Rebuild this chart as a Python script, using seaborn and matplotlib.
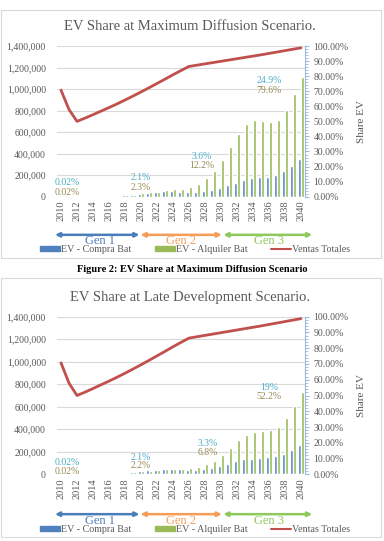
import numpy as np
import pandas as pd
import matplotlib
matplotlib.use("Agg")
import matplotlib.pyplot as plt
from matplotlib.patches import Rectangle, Patch
from matplotlib.lines import Line2D
from matplotlib.ticker import MultipleLocator, FuncFormatter
import seaborn as sns

sns.set_style("white")
plt.rcParams['font.family'] = ['Liberation Serif', 'DejaVu Serif']

# data
years = list(range(2010, 2041))
ventas = [990000, 810000, 700000, 730000, 762000, 795000, 828000, 862000, 898000,
          935000, 973000, 1012000, 1052000, 1092000, 1133000, 1172000, 1210000,
          1222000, 1234000, 1246000, 1258000, 1270000, 1282000, 1294000, 1306000,
          1318000, 1331000, 1344000, 1357000, 1370000, 1383000]

compra_max = [0.0002, 0.0002, 0.0002, 0.0005, 0.001, 0.002, 0.004, 0.006, 0.009, 0.013,
              0.021, 0.026, 0.030, 0.035, 0.036, 0.033, 0.030, 0.030, 0.036, 0.042,
              0.058, 0.079, 0.094, 0.114, 0.124, 0.131, 0.134, 0.145, 0.170, 0.207, 0.249]
alquiler_max = [0.0002, 0.0002, 0.0002, 0.0005, 0.001, 0.002, 0.003, 0.005, 0.008, 0.012,
                0.023, 0.029, 0.034, 0.042, 0.049, 0.054, 0.064, 0.087, 0.122, 0.170,
                0.244, 0.330, 0.418, 0.482, 0.510, 0.504, 0.495, 0.510, 0.573, 0.680, 0.796]

compra_late = [0.0002, 0.0002, 0.0002, 0.0005, 0.001, 0.002, 0.004, 0.006, 0.009, 0.013,
               0.021, 0.026, 0.030, 0.035, 0.036, 0.032, 0.028, 0.028, 0.033, 0.037,
               0.050, 0.065, 0.083, 0.097, 0.100, 0.103, 0.107, 0.113, 0.128, 0.156, 0.188]
alquiler_late = [0.0002, 0.0002, 0.0002, 0.0005, 0.001, 0.002, 0.003, 0.005, 0.008, 0.012,
                 0.022, 0.024, 0.026, 0.033, 0.035, 0.035, 0.039, 0.046, 0.068, 0.087,
                 0.124, 0.170, 0.217, 0.250, 0.270, 0.275, 0.280, 0.302, 0.355, 0.435, 0.522]

# data labels: (compra text, alquiler text, x index, y compra, y alquiler)
labels_max = [("0.02%", "0.02%", 0.75, 0.097, 0.031),
              ("2.1%", "2.3%", 10.0, 0.126, 0.062),
              ("3.6%", "12.2%", 17.6, 0.27, 0.206),
              ("24.9%", "79.6%", 26.0, 0.774, 0.708)]
labels_late = [("0.02%", "0.02%", 0.75, 0.076, 0.017),
               ("2.1%", "2.2%", 10.0, 0.108, 0.053),
               ("3.3%", "6.8%", 18.3, 0.197, 0.137),
               ("19%", "52.2%", 26.0, 0.552, 0.492)]

series = ["EV - Compra Bat", "EV - Alquiler Bat", "Ventas Totales"]
blue, green, red = "#4F81BD", "#9BBB59", "#C0504D"
grey = "#595959"

W, H = 384, 541
fig = plt.figure(figsize=(W / 100, H / 100), dpi=100)


def fy(py):
    return 1 - py / H


def panel(top_px, bottom_px, title, title_px, box, compra, alquiler, lbls, legend_px):
    ax = fig.add_axes([57 / W, fy(bottom_px), 248 / W, (bottom_px - top_px) / H])
    ax2 = ax.twinx()

    df = pd.DataFrame({
        "year": [str(y) for y in years] * 2,
        "serie": [series[0]] * len(years) + [series[1]] * len(years),
        "share": compra + alquiler,
    })
    sns.barplot(data=df, x="year", y="share", hue="serie", palette=[blue, green],
                width=0.78, gap=0.15, saturation=1, legend=False, ax=ax2)
    sns.lineplot(x=np.arange(len(years)), y=ventas, color=red, linewidth=2.0, ax=ax)

    ax.set_ylim(0, 1400000)
    ax.set_yticks(range(0, 1400001, 200000))
    ax.yaxis.set_major_formatter(FuncFormatter(lambda v, p: f"{int(v):,}"))
    ax.grid(axis="y", color="#D9D9D9", linewidth=0.8)
    ax.set_axisbelow(True)
    ax.tick_params(axis="y", length=0, labelsize=7, labelcolor=grey, pad=8)
    ax.set_xlim(-0.5, len(years) - 0.5)
    ax.set_xticks(range(0, len(years), 2))
    ax.set_xticklabels([str(y) for y in years[::2]], rotation=90)
    ax.tick_params(axis="x", length=0, labelsize=7.5, labelcolor=grey, pad=3)
    ax.set_xlabel("")
    ax.set_ylabel("")
    for s in ax.spines.values():
        s.set_visible(False)

    ax2.set_ylim(0, 1)
    ax2.yaxis.set_major_locator(MultipleLocator(0.1))
    ax2.yaxis.set_minor_locator(MultipleLocator(0.02))
    ax2.yaxis.set_major_formatter(FuncFormatter(lambda v, p: f"{v * 100:.2f}%"))
    ax2.tick_params(axis="y", which="major", length=3, color="#9DB9D9", labelsize=7,
                    labelcolor=grey, pad=3)
    ax2.tick_params(axis="y", which="minor", length=2, color="#9DB9D9")
    ax2.set_ylabel("Share EV", color=grey, fontsize=8, labelpad=6)
    ax2.set_xlabel("")
    for k, s in ax2.spines.items():
        s.set_visible(k == "right")
    ax2.spines["right"].set_color("#9DB9D9")

    for t1, t2, xi, y1, y2 in lbls:
        ax2.text(xi, y1, t1, color="#4BACC6", fontsize=7, ha="center", va="center")
        ax2.text(xi, y2, t2, color="#948A54", fontsize=7, ha="center", va="center")

    # generation arrows
    tr = ax.get_xaxis_transform()
    gens = [("Gen 1", -0.75, 9.8, 4.9, "#4A7EBB"),
            ("Gen 2", 9.95, 20.1, 15.0, "#F59D56"),
            ("Gen 3", 20.3, 31.4, 26.0, "#8DC95B")]
    for name, x0, x1, xc, col in gens:
        ax.annotate("", xy=(x1, -0.253), xytext=(x0, -0.253), xycoords=tr, textcoords=tr,
                    annotation_clip=False,
                    arrowprops=dict(arrowstyle="<|-|>", color=col, lw=1.8,
                                    mutation_scale=6, shrinkA=0, shrinkB=0))
        ax.text(xc, -0.295, name, color=col, fontsize=9, ha="center", va="center",
                transform=tr)

    handles = [Patch(color=blue), Patch(color=green), Line2D([], [], color=red, lw=1.5)]
    fig.legend(handles, series, loc="center", bbox_to_anchor=(0.508, fy(legend_px)),
               ncol=3, frameon=False, fontsize=7.2, handlelength=2.0, handleheight=0.45,
               handletextpad=0.15, columnspacing=2.3, labelcolor=grey)

    fig.text(0.495, fy(title_px), title, ha="center", va="center", fontsize=10.5, color=grey)
    fig.add_artist(Rectangle((1 / W, fy(box[1])), 380 / W, (box[1] - box[0]) / H,
                             transform=fig.transFigure, fill=False, ec="#D9D9D9", lw=0.8))


panel(46, 196.7, "EV Share at Maximum Diffusion Scenario.", 26, (10, 258),
      compra_max, alquiler_max, labels_max, 249.5)
fig.text(0.5, fy(269), "Figure 2: EV Share at Maximum Diffusion Scenario", ha="center",
         va="center", fontsize=7.5, fontweight="bold", color="black")
panel(316.7, 474.3, "EV Share at Late Development Scenario.", 297, (278, 537),
      compra_late, alquiler_late, labels_late, 529.5)

fig.savefig("out.png", dpi=100)
